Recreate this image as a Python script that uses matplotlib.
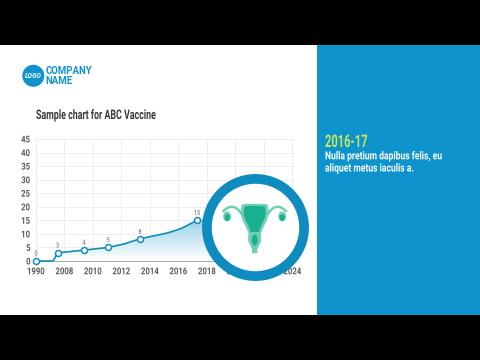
import matplotlib
matplotlib.use('Agg')
import matplotlib.pyplot as plt
from matplotlib.patches import Rectangle, Circle, Ellipse, Polygon, PathPatch
from matplotlib.patheffects import AbstractPathEffect
from matplotlib.transforms import Affine2D
from matplotlib.path import Path
import numpy as np

plt.rcParams['font.family'] = ['Roboto', 'DejaVu Sans']

tick_labels = ['1990', '2008', '2010', '2012', '2014', '2016', '2018', '2020', '2022', '2024']
y_ticks = [0, 5, 10, 15, 20, 25, 30, 35, 40, 45]

# the line (x is the position on the category axis)
line_x = [0, 0.6, 0.76, 1.68, 2.53, 3.1, 3.65, 4.6, 5.1, 5.65]
line_y = [0, 0, 3, 4, 5, 6.3, 8.2, 10.3, 12, 15]
point_x = [0, 0.76, 1.68, 2.53, 3.65, 5.65]
point_y = [0, 3, 4, 5, 8, 15]
point_labels = ['0', '3', '4', '5', '8', '15']
# the shaded area runs on behind the ring
area_end_x = 6.4
area_end_y = 17

PANEL = '#0f93cc'
RING = '#0f8cbf'
LINE = '#0f8dbd'
TEAL = '#1aaf8e'
MINT = '#6fd0b4'


class Squeeze(AbstractPathEffect):
  # no condensed font installed, so narrow the glyphs when they are drawn
  def __init__(self, sx, center=False):
    super().__init__()
    self.sx = sx
    self.center = center

  def draw_path(self, renderer, gc, tpath, affine, rgbFace=None):
    if self.center:
      ext = tpath.get_extents()
      ox = affine.transform([((ext.x0 + ext.x1) / 2, 0)])[0][0]
    else:
      ox = affine.transform([(0, 0)])[0][0]
    squeeze = Affine2D().translate(-ox, 0).scale(self.sx, 1).translate(ox, 0)
    renderer.draw_path(gc, tpath, affine + squeeze, rgbFace)


fig = plt.figure(figsize=(4.8, 3.6), dpi=100, facecolor='black')

# page background in pixel coordinates
bg = fig.add_axes([0, 0, 1, 1], zorder=0)
bg.set_xlim(0, 480)
bg.set_ylim(360, 0)
bg.axis('off')
bg.add_patch(Rectangle((0, 45), 480, 270, color='white', lw=0))
bg.add_patch(Rectangle((317, 45), 163, 270, color=PANEL, lw=0))

# logo
bg.add_patch(Circle((33.3, 75.8), 11, color=PANEL, lw=0))
bg.text(33.3, 76, 'LOGO', color='white', fontsize=4.8, style='italic', weight='bold', ha='center', va='center')
bg.text(45.5, 70.7, 'COMPANY', color=PANEL, fontsize=6.9, weight='bold', va='center')
bg.text(45.5, 81, 'NAME', color=PANEL, fontsize=6.9, weight='bold', va='center')
bg.text(36, 115.5, 'Sample chart for ABC Vaccine', color='#3a3a3a', fontsize=9.5, weight='bold', va='center',
        path_effects=[Squeeze(0.67)])

# right panel
bg.text(325, 142.5, '2016-17', color='#c6e85c', fontsize=12.5, weight='bold', va='center',
        path_effects=[Squeeze(0.64)])
bg.text(325, 156.5, 'Nulla pretium dapibus felis, eu', color='white', fontsize=8, weight='bold', va='center',
        path_effects=[Squeeze(0.77)])
bg.text(325, 168.5, 'aliquet metus iaculis a.', color='white', fontsize=8, weight='bold', va='center',
        path_effects=[Squeeze(0.77)])

# chart
ax = fig.add_axes([36 / 480, (360 - 261) / 360, 259 / 480, 122 / 360], zorder=1)
ax.patch.set_alpha(0)
ax.set_xticks(range(len(tick_labels)))
ax.set_xticklabels(tick_labels, fontsize=6.8, weight='bold', color='#5a5a5a')
ax.set_yticks(y_ticks)
ax.set_yticklabels(y_ticks, fontsize=6.8, weight='bold', color='#5a5a5a')
for t in ax.get_xticklabels():
  t.set_path_effects([Squeeze(0.82, center=True)])
for t in ax.get_yticklabels():
  t.set_path_effects([Squeeze(0.82, center=True)])
ax.tick_params(axis='x', length=0, pad=4.5)
ax.tick_params(axis='y', length=0, pad=3.5)
ax.grid(color='#eeeeee', lw=0.7)
ax.set_axisbelow(True)
for s in ['top', 'right', 'left']:
  ax.spines[s].set_visible(False)
ax.spines['bottom'].set_color('#aaaaaa')
ax.spines['bottom'].set_linewidth(0.8)

# area with vertical gradient
grad = np.linspace(1, 0, 100).reshape(-1, 1)
cmap = matplotlib.colors.LinearSegmentedColormap.from_list('fade', ['#ffffff', '#8fcbe6'])
im = ax.imshow(grad, extent=[0, area_end_x, 0, area_end_y], aspect='auto', cmap=cmap, zorder=1)
poly = Polygon(list(zip(line_x, line_y)) + [(area_end_x, area_end_y), (area_end_x, 0), (0, 0)], closed=True,
               transform=ax.transData, fc='none', ec='none')
ax.add_patch(poly)
im.set_clip_path(poly)
ax.set_xlim(0, 259 / 28.5)
ax.set_ylim(0, 45)

ax.plot(line_x, line_y, color=LINE, lw=1.2, zorder=3, clip_on=False)
ax.plot(point_x, point_y, 'o', ms=4.3, mfc='white', mec=LINE, mew=1.1, zorder=4, clip_on=False)
for x, y, s in zip(point_x, point_y, point_labels):
  ax.annotate(s, (x, y), xytext=(0, 5), textcoords='offset points', ha='center', va='center',
              fontsize=5, color='#666666', path_effects=[Squeeze(0.8, center=True)])

# ring with icon on top of the chart
top = fig.add_axes([0, 0, 1, 1], zorder=2)
top.set_xlim(0, 480)
top.set_ylim(360, 0)
top.axis('off')
top.patch.set_alpha(0)
top.add_patch(Circle((255.5, 227.5), 48.6, fc='white', ec=RING, lw=7))

cx = 254.7
for side in [-1, 1]:
  tube = Path([(cx + side * 12, 216), (cx + side * 18, 205), (cx + side * 25, 204), (cx + side * 32, 212)],
              [Path.MOVETO, Path.CURVE4, Path.CURVE4, Path.CURVE4])
  top.add_patch(PathPatch(tube, fc='none', ec=MINT, lw=1.8))
  top.add_patch(Ellipse((cx + side * 27.5, 216.5), 8, 10, color=MINT, lw=0))
  top.add_patch(Ellipse((cx + side * 27.5, 217.5), 5, 6.5, color=TEAL, lw=0))


def mirrored(half):
  right = [(cx + w, y) for y, w in half]
  left = [(cx - w, y) for y, w in reversed(half)]
  return right + left


body = [(204.5, 10), (205.5, 12.5), (212, 13.5), (220, 11.5), (226, 8.5), (233, 5.5), (240, 6), (245, 4), (249, 2),
        (252.5, 2)]
womb = [(207, 7), (208, 9.5), (214, 10), (219, 8.5), (224, 6), (229, 4), (231, 3.5)]
top.add_patch(Polygon(mirrored(body), closed=True, fc=MINT, ec=MINT, lw=1, joinstyle='round'))
top.add_patch(Polygon(mirrored(womb), closed=True, fc=TEAL, ec=TEAL, lw=1.5, joinstyle='round'))
top.add_patch(Ellipse((cx, 240), 6, 11, color=TEAL, lw=0))

fig.savefig('out.png', dpi=100, facecolor=fig.get_facecolor())
